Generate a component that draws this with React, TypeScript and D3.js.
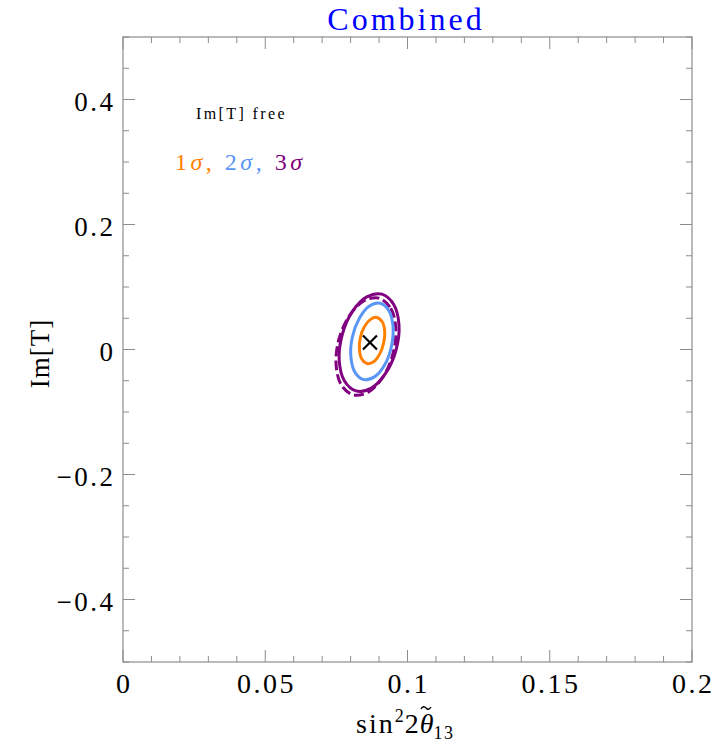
import React from "react";
import * as d3 from "d3";

// contours: [sin^2 2theta13, Im[T]]
const sigma1: [number, number][] = [
  [0.0892, 0.0513], [0.0911, 0.0444], [0.092, 0.0293], [0.0916, 0.0104],
  [0.0902, -0.0074], [0.0881, -0.0196], [0.0858, -0.0224], [0.084, -0.0155],
  [0.0831, -0.0005], [0.0834, 0.0184], [0.0848, 0.0362], [0.087, 0.0482],
];
const sigma2: [number, number][] = [
  [0.0904, 0.0739], [0.0934, 0.0625], [0.0949, 0.0377], [0.0944, 0.0061],
  [0.0921, -0.0236], [0.0885, -0.0434], [0.0847, -0.0482], [0.0816, -0.0369],
  [0.0801, -0.012], [0.0806, 0.0196], [0.083, 0.0492], [0.0865, 0.0691],
];
const sigma3: [number, number][] = [
  [0.091, 0.0886], [0.0951, 0.0724], [0.097, 0.0399], [0.096, -0.0004],
  [0.0924, -0.0375], [0.0873, -0.0617], [0.0819, -0.0662], [0.0778, -0.05],
  [0.076, -0.0175], [0.077, 0.0228], [0.0805, 0.0599], [0.0857, 0.0841],
];
const sigma3Dashed: [number, number][] = [
  [0.09, 0.0822], [0.0941, 0.066], [0.0959, 0.0335], [0.0949, -0.0068],
  [0.0914, -0.0439], [0.0862, -0.0681], [0.0809, -0.0726], [0.0767, -0.0564],
  [0.0749, -0.0239], [0.0759, 0.0164], [0.0795, 0.0535], [0.0846, 0.0777],
];
const bestFit: [number, number] = [0.0868, 0.0112];

const xTicks = [0, 0.05, 0.1, 0.15, 0.2];
const xTickLabels = ["0", "0.05", "0.1", "0.15", "0.2"];
const yTicks = [0.4, 0.2, 0, -0.2, -0.4];
const yTickLabels = ["0.4", "0.2", "0", "\u22120.2", "\u22120.4"];

const W = 726, H = 744;
const left = 123, right = 692, top = 37, bottom = 662;
const font = "'Liberation Serif', 'DejaVu Serif', serif";
const frameColor = "#8c8c8c";
const orange = "#ff8000", blue = "#5a96f5", purple = "#800080";

export default function App() {
  const x = d3.scaleLinear().domain([0, 0.2]).range([left, right]);
  const y = d3.scaleLinear().domain([-0.5, 0.5]).range([bottom, top]);
  const line = d3.line<[number, number]>()
    .x(d => x(d[0]))
    .y(d => y(d[1]))
    .curve(d3.curveCatmullRomClosed);

  const xMinor = d3.range(0, 0.2001, 0.01).map(v => +v.toFixed(3));
  const yMinor = d3.range(-0.5, 0.5001, 0.05).map(v => +v.toFixed(3));
  const isXMajor = (v: number) => xTicks.some(t => Math.abs(t - v) < 1e-6);
  const isYMajor = (v: number) => yTicks.some(t => Math.abs(t - v) < 1e-6);

  const [bx, by] = [x(bestFit[0]), y(bestFit[1])];
  const c = 7;
  const ls = 2.5;

  // tilde over theta in the x label
  const tx = 421, ty = 709;

  return (
    <svg width={W} height={H} style={{ position: "absolute", left: 0, top: 0, background: "#fff" }}>
      <text x={406} y={30} textAnchor="middle" fontFamily={font} fontSize={32} fill="#0000ff" letterSpacing={3}>Combined</text>

      {/* frame */}
      <rect x={left} y={top} width={right - left} height={bottom - top} fill="none" stroke={frameColor} strokeWidth={1.2} />

      {/* ticks on all four sides */}
      {xMinor.map(v => {
        const len = isXMajor(v) ? 12 : 6;
        return (
          <g key={"xt" + v} stroke={frameColor} strokeWidth={1}>
            <line x1={x(v)} x2={x(v)} y1={bottom} y2={bottom - len} />
            <line x1={x(v)} x2={x(v)} y1={top} y2={top + len} />
          </g>
        );
      })}
      {yMinor.map(v => {
        const len = isYMajor(v) ? 12 : 6;
        return (
          <g key={"yt" + v} stroke={frameColor} strokeWidth={1}>
            <line x1={left} x2={left + len} y1={y(v)} y2={y(v)} />
            <line x1={right} x2={right - len} y1={y(v)} y2={y(v)} />
          </g>
        );
      })}

      {xTicks.map((v, i) => (
        <text key={"xl" + v} x={x(v) + ls / 2} y={693} textAnchor="middle" fontFamily={font} fontSize={28} letterSpacing={ls}>
          {xTickLabels[i]}
        </text>
      ))}
      {yTicks.map((v, i) => (
        <text key={"yl" + v} x={113 + ls} y={y(v) + 11} textAnchor="end" fontFamily={font} fontSize={27} letterSpacing={ls}>
          {yTickLabels[i]}
        </text>
      ))}

      {/* axis labels */}
      <text x={0} y={0} transform={`translate(49, ${y(0) + 4}) rotate(-90)`} textAnchor="middle" fontFamily={font} fontSize={27} letterSpacing={1}>
        Im[T]
      </text>
      <text x={356} y={733} fontFamily={font} fontSize={28}>
        <tspan letterSpacing={2}>sin</tspan>
        <tspan fontSize={18} dy={-11}>2</tspan>
        <tspan dy={11} dx={1}>2</tspan>
        <tspan fontStyle="italic" dx={1}>θ</tspan>
        <tspan fontSize={18} dy={6} letterSpacing={1.5}>13</tspan>
      </text>
      <path d={`M${tx},${ty} q2.5,-4 5,-1 t5,-1`} fill="none" stroke="#000" strokeWidth={1.4} />

      {/* legend text */}
      <text x={196} y={119} fontFamily={font} fontSize={16} letterSpacing={2.4}>Im[T] free</text>
      <text x={175} y={170} fontFamily={font} fontSize={24} letterSpacing={3.5}>
        <tspan fill={orange}>1</tspan>
        <tspan fill={orange} fontStyle="italic">σ</tspan>
        <tspan fill={orange}>, </tspan>
        <tspan fill={blue}>2</tspan>
        <tspan fill={blue} fontStyle="italic">σ</tspan>
        <tspan fill={blue}>, </tspan>
        <tspan fill={purple}>3</tspan>
        <tspan fill={purple} fontStyle="italic">σ</tspan>
      </text>

      {/* contours */}
      <path d={line(sigma3Dashed) ?? ""} fill="none" stroke={purple} strokeWidth={3} strokeDasharray="10 4" />
      <path d={line(sigma3) ?? ""} fill="none" stroke={purple} strokeWidth={3} />
      <path d={line(sigma2) ?? ""} fill="none" stroke={blue} strokeWidth={3} />
      <path d={line(sigma1) ?? ""} fill="none" stroke={orange} strokeWidth={3} />

      {/* best fit */}
      <g stroke="#000" strokeWidth={2.2}>
        <line x1={bx - c} y1={by - c} x2={bx + c} y2={by + c} />
        <line x1={bx - c} y1={by + c} x2={bx + c} y2={by - c} />
      </g>
    </svg>
  );
}
